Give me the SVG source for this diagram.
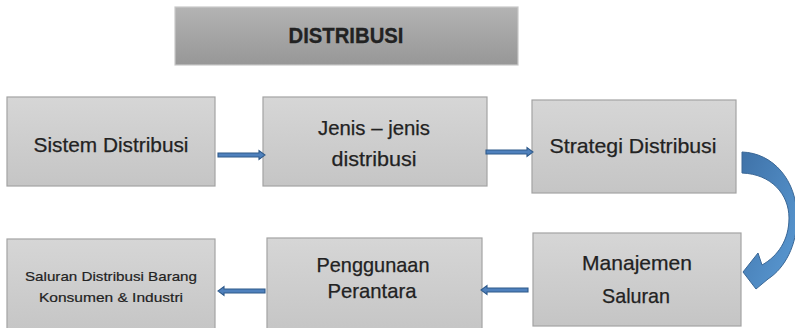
<svg xmlns="http://www.w3.org/2000/svg" width="795" height="328" viewBox="0 0 795 328">
  <defs>
    <linearGradient id="titleFill" x1="0" y1="0" x2="0" y2="1">
      <stop offset="0" stop-color="#b3b3b3"/>
      <stop offset="1" stop-color="#979797"/>
    </linearGradient>
    <linearGradient id="boxFill" x1="0" y1="0" x2="0" y2="1">
      <stop offset="0" stop-color="#d6d6d6"/>
      <stop offset="1" stop-color="#c5c5c5"/>
    </linearGradient>
    <linearGradient id="curveFill" x1="0" y1="0" x2="1" y2="1">
      <stop offset="0" stop-color="#3f72a8"/>
      <stop offset="1" stop-color="#5b9bd5"/>
    </linearGradient>
    <!-- small block arrow pointing right, origin at tail centre -->
    <path id="blockArrow" d="M0,-2 L41,-2 L41,-4.5 L47,0 L41,4.5 L41,2 L0,2 Z"/>
  </defs>
  <style>
    .box { fill: url(#boxFill); stroke: #a3a3a3; stroke-width: 1.2; }
    .title { fill: url(#titleFill); stroke: #c8c8c8; stroke-width: 1.2; }
    .lbl { font-family: "Liberation Sans", Arial, sans-serif; fill: #222222; text-anchor: middle; font-size: 21px; stroke: #222222; stroke-width: 0.25; }
    .small { font-size: 13.5px; stroke-width: 0.2; }
    .bold { font-weight: bold; font-size: 22.5px; stroke-width: 0.3; }
    .arrow { fill: #4f81bd; stroke: #2f5a8a; stroke-width: 1.1; }
  </style>

  <rect width="795" height="328" fill="#ffffff"/>

  <g id="title">
    <rect class="title" x="175" y="7" width="343" height="58"/>
    <text class="lbl bold" x="346" y="43" textLength="115" lengthAdjust="spacingAndGlyphs">DISTRIBUSI</text>
  </g>

  <g id="sistem-distribusi">
    <rect class="box" x="7" y="97" width="208" height="89"/>
    <text class="lbl" x="111" y="152" textLength="155" lengthAdjust="spacingAndGlyphs">Sistem Distribusi</text>
  </g>

  <g id="jenis-distribusi">
    <rect class="box" x="263" y="97" width="224" height="89"/>
    <text class="lbl" x="374" y="135" textLength="112" lengthAdjust="spacingAndGlyphs">Jenis – jenis</text>
    <text class="lbl" x="374" y="166" textLength="85" lengthAdjust="spacingAndGlyphs">distribusi</text>
  </g>

  <g id="strategi-distribusi">
    <rect class="box" x="532" y="100" width="204" height="93"/>
    <text class="lbl" x="633" y="153" textLength="167" lengthAdjust="spacingAndGlyphs">Strategi Distribusi</text>
  </g>

  <g id="manajemen-saluran">
    <rect class="box" x="533" y="233" width="208" height="93"/>
    <text class="lbl" x="637" y="270" textLength="110" lengthAdjust="spacingAndGlyphs">Manajemen</text>
    <text class="lbl" x="636" y="303" textLength="68" lengthAdjust="spacingAndGlyphs">Saluran</text>
  </g>

  <g id="penggunaan-perantara">
    <rect class="box" x="267" y="238" width="215" height="95"/>
    <text class="lbl" x="373" y="272" textLength="113" lengthAdjust="spacingAndGlyphs">Penggunaan</text>
    <text class="lbl" x="372" y="298" textLength="89" lengthAdjust="spacingAndGlyphs">Perantara</text>
  </g>

  <g id="saluran-distribusi-barang">
    <rect class="box" x="7" y="239" width="208" height="95"/>
    <text class="lbl small" x="111" y="281" textLength="172" lengthAdjust="spacingAndGlyphs">Saluran Distribusi Barang</text>
    <text class="lbl small" x="111" y="302" textLength="144" lengthAdjust="spacingAndGlyphs">Konsumen &amp; Industri</text>
  </g>

  <g id="connectors">
    <use href="#blockArrow" class="arrow" transform="translate(218,155)"/>
    <use href="#blockArrow" class="arrow" transform="translate(486,152)"/>
    <use href="#blockArrow" class="arrow" transform="translate(528,290) scale(-1,1)"/>
    <use href="#blockArrow" class="arrow" transform="translate(265,291) scale(-1,1)"/>
    <!-- curved arrow from Strategi Distribusi down to Manajemen Saluran -->
    <path fill="url(#curveFill)" stroke="#3a6796" stroke-width="1"
          d="M742,152 C773,153 797,180 797,218 C797,245 785,268 768,279 L756,289 L743,272 L758,253 L762,265 C778,256 789,240 789,218 C789,194 771,174 742,173 Z"/>
  </g>
</svg>
